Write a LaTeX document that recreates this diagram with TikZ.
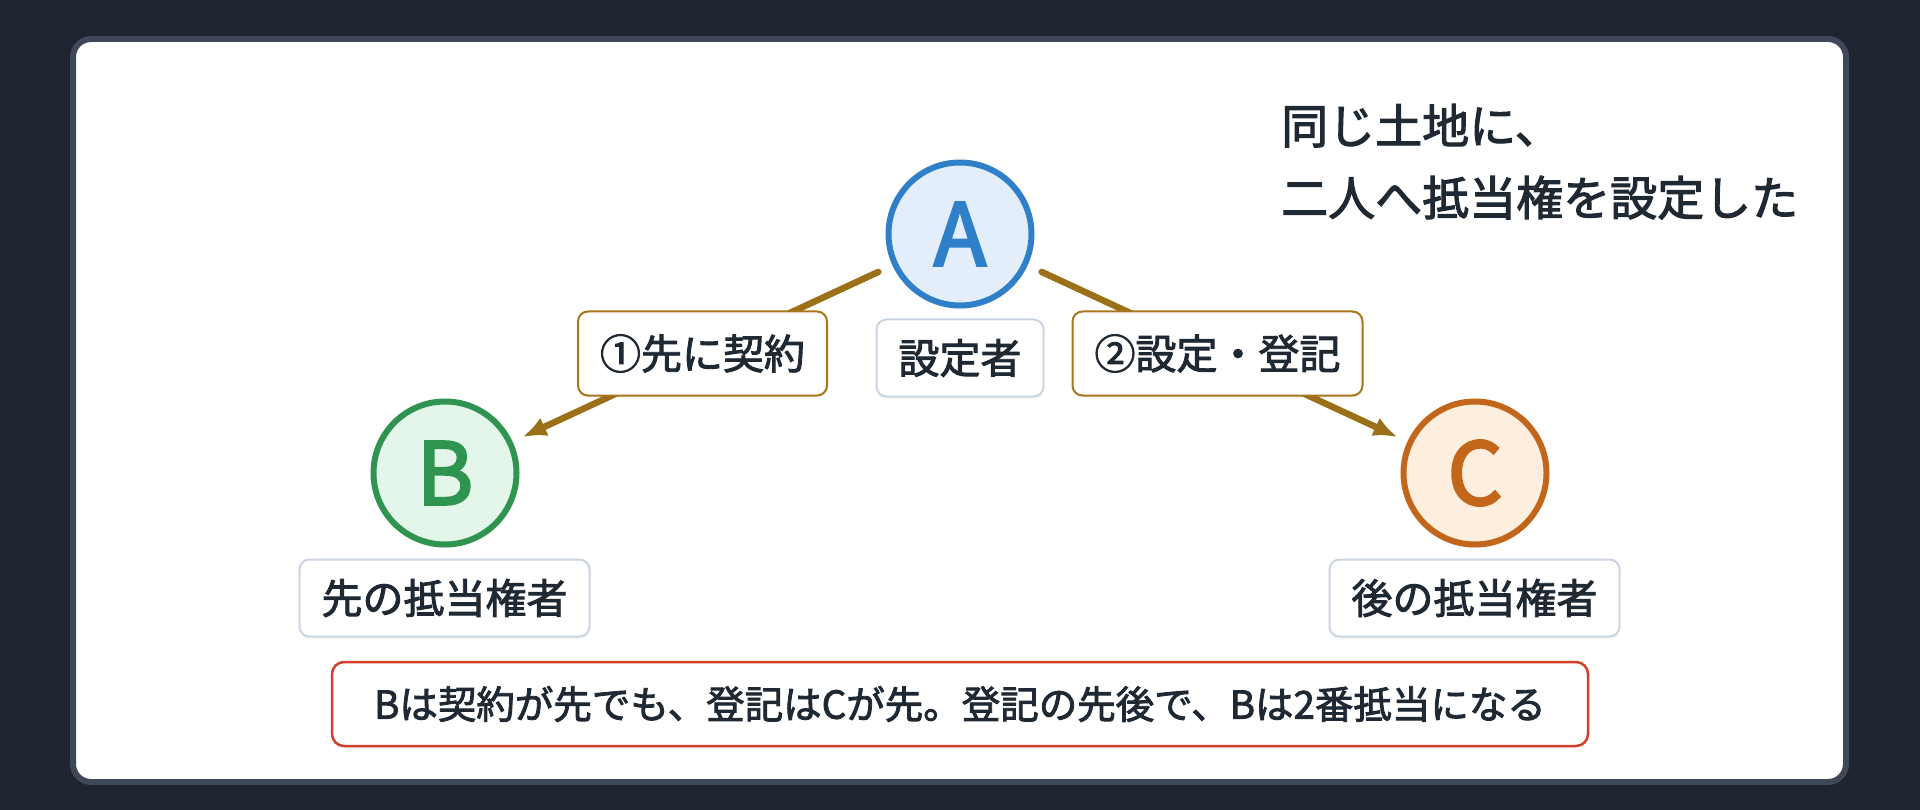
\documentclass[tikz,border=0pt]{standalone}
\usepackage{fontspec}
\setmainfont[FakeBold=2.2]{Noto Sans CJK JP}
\newfontfamily\letterfont[FakeBold=3]{Noto Sans CJK JP}
\usetikzlibrary{arrows.meta,calc,shadows}
\definecolor{bgc}{HTML}{1E2530}
\definecolor{panelc}{HTML}{3E4859}
\definecolor{txt}{HTML}{1F2933}
\definecolor{Ablue}{HTML}{2F80C8}
\definecolor{Afill}{HTML}{E3EEFA}
\definecolor{Bgreen}{HTML}{2E9450}
\definecolor{Bfill}{HTML}{E4F5E9}
\definecolor{Corange}{HTML}{C2661B}
\definecolor{Cfill}{HTML}{FDEEDD}
\definecolor{arrowc}{HTML}{9C7018}
\definecolor{labelc}{HTML}{A8761C}
\definecolor{grayc}{HTML}{CBD5E1}
\definecolor{redc}{HTML}{D0402B}
\tikzset{
  circ/.style={circle, minimum size=143pt, line width=6pt, inner sep=0pt, outer sep=0pt,
    font=\fontsize{86}{86}\selectfont\letterfont,
    drop shadow={opacity=0.08, shadow xshift=0pt, shadow yshift=-4pt}},
  conn/.style={draw=arrowc, line width=6.5pt, line cap=round,
    -{Latex[length=24pt,width=20pt]}, shorten <=18.5pt, shorten >=14pt},
  lblbox/.style={rounded corners=10pt, draw=labelc, line width=2pt, fill=white,
    font=\fontsize{41}{41}\selectfont, minimum height=84pt, inner xsep=22pt, text=txt,
    drop shadow={opacity=0.06, shadow xshift=0pt, shadow yshift=-3pt}},
  graybox/.style={rounded corners=10pt, draw=grayc, line width=2pt, fill=white,
    font=\fontsize{41}{41}\selectfont, minimum height=77pt, inner xsep=22pt, text=txt,
    drop shadow={opacity=0.06, shadow xshift=0pt, shadow yshift=-3pt}},
  redbox/.style={rounded corners=12pt, draw=redc, line width=2.5pt, fill=white,
    font=\fontsize{38.5}{38.5}\selectfont, minimum height=84pt, minimum width=1256pt, text=txt,
    drop shadow={opacity=0.06, shadow xshift=0pt, shadow yshift=-3pt}},
  titletxt/.style={anchor=base west, align=left, inner sep=0pt, text=txt,
    font=\fontsize{47}{72}\selectfont}
}
\begin{document}
\begin{tikzpicture}[x=1pt,y=-1pt]
\fill[bgc] (0,0) rectangle (1920,810);
\useasboundingbox (0,0) rectangle (1920,810);
\draw[draw=panelc, line width=6pt, fill=white, rounded corners=18pt] (73,39) rectangle (1846,782);

\node[circ, draw=Ablue, fill=Afill, text=Ablue] (A) at (960,234) {A};
\node[circ, draw=Bgreen, fill=Bfill, text=Bgreen] (B) at (445,473) {B};
\node[circ, draw=Corange, fill=Cfill, text=Corange] (C) at (1475,473) {C};

\draw[conn] (A) -- (B);
\draw[conn] (A) -- (C);

\node[lblbox] (l1) at ($(A)!0.5!(B)$) {①先に契約};
\node[lblbox] (l2) at ($(A)!0.5!(C)$) {②設定・登記};
\node[graybox] (s) at (960,358) {設定者};
\node[graybox] (bl) at (444.5,598) {先の抵当権者};
\node[graybox] (cl) at (1474.5,598) {後の抵当権者};
\node[redbox] (note) at (960,704) {Bは契約が先でも、登記はCが先。登記の先後で、Bは2番抵当になる};

\node[titletxt] (title) at (1281,215.5) {同じ土地に、\\二人へ抵当権を設定した};
\end{tikzpicture}
\end{document}
